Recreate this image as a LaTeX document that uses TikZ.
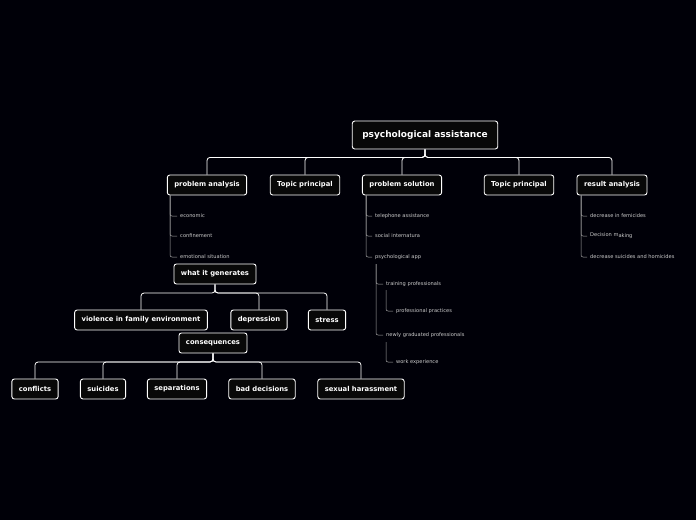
\documentclass[tikz,border=0pt]{standalone}
\usepackage{fontspec}
\setmainfont{DejaVu Sans}
\begin{document}
\begin{tikzpicture}[x=1pt,y=-1pt,
 box/.style={draw=white,line width=0.9pt,rounded corners=2.5pt,fill=black!97,text=white,font=\bfseries\fontsize{6.8}{7.5}\selectfont,minimum height=20pt,inner xsep=7pt},
 mainbox/.style={box,minimum height=28pt,font=\bfseries\fontsize{9}{10}\selectfont,inner xsep=10pt},
 lbl/.style={anchor=west,text=white!80!black,font=\fontsize{5.1}{6}\selectfont,inner sep=0pt},
 conn/.style={draw=white,line width=0.8pt,rounded corners=3pt},
 sub/.style={draw=white!65!black,line width=0.5pt,rounded corners=2pt}]
\fill[black!97!blue] (0,0) rectangle (696,520);
\useasboundingbox (0,0) rectangle (696,520);
\node[mainbox] (m) at (425,135) {psychological assistance};
\node[box] (pa) at (207,185) {problem analysis};
\node[box] (t1) at (305,185) {Topic principal};
\node[box] (ps) at (402,185) {problem solution};
\node[box] (t2) at (519,185) {Topic principal};
\node[box] (ra) at (612,185) {result analysis};
\foreach \n in {pa,t1,ps,t2,ra}{\draw[conn] (m.south) -- ++(0,8) -| (\n.north);}
% problem analysis
\node[lbl] (e1) at (180,216) {economic};
\node[lbl] (e2) at (180,236) {confinement};
\node[lbl] (e3) at (180,257) {emotional situation};
\foreach \n in {e1,e2,e3}{\draw[sub] (pa.south -| 170,0) |- ([xshift=-3pt]\n.west);}
% what it generates
\node[box] (wg) at (215,274) {what it generates};
\node[box] (v) at (141,320) {violence in family environment};
\node[box] (d) at (259,320) {depression};
\node[box] (s) at (327,320) {stress};
\foreach \n in {v,d,s}{\draw[conn] (wg.south) -- (215,293) -| (\n.north);}
\node[box] (c) at (213,343) {consequences};
\node[box] (c1) at (35,389) {conflicts};
\node[box] (c2) at (103,389) {suicides};
\node[box] (c3) at (177,389) {separations};
\node[box] (c4) at (262,389) {bad decisions};
\node[box] (c5) at (361,389) {sexual harassment};
\foreach \n in {c1,c2,c3,c4,c5}{\draw[conn] (c.south) -- (213,362) -| (\n.north);}
% problem solution
\node[lbl] (s1) at (375,216) {telephone assistance};
\node[lbl] (s2) at (375,236) {social internatura};
\node[lbl] (s3) at (375,257) {psychological app};
\foreach \n in {s1,s2,s3}{\draw[sub] (ps.south -| 366,0) |- ([xshift=-3pt]\n.west);}
\node[lbl] (s4) at (386,284) {training professionals};
\node[lbl] (s5) at (386,335) {newly graduated professionals};
\foreach \n in {s4,s5}{\draw[sub] (376,264) |- ([xshift=-3pt]\n.west);}
\node[lbl] (s6) at (396,311) {professional practices};
\draw[sub] (386,290) |- ([xshift=-3pt]s6.west);
\node[lbl] (s7) at (396,362) {work experience};
\draw[sub] (386,342) |- ([xshift=-3pt]s7.west);
% result analysis
\node[lbl] (r1) at (590,216) {decrease in femicides};
\node[lbl] (r2) at (590,236) {Decision m\raisebox{-1pt}{aking}};
\node[lbl] (r3) at (590,257) {decrease suicides and homicides};
\foreach \n in {r1,r2,r3}{\draw[sub] (ra.south -| 581,0) |- ([xshift=-3pt]\n.west);}
\end{tikzpicture}
\end{document}
